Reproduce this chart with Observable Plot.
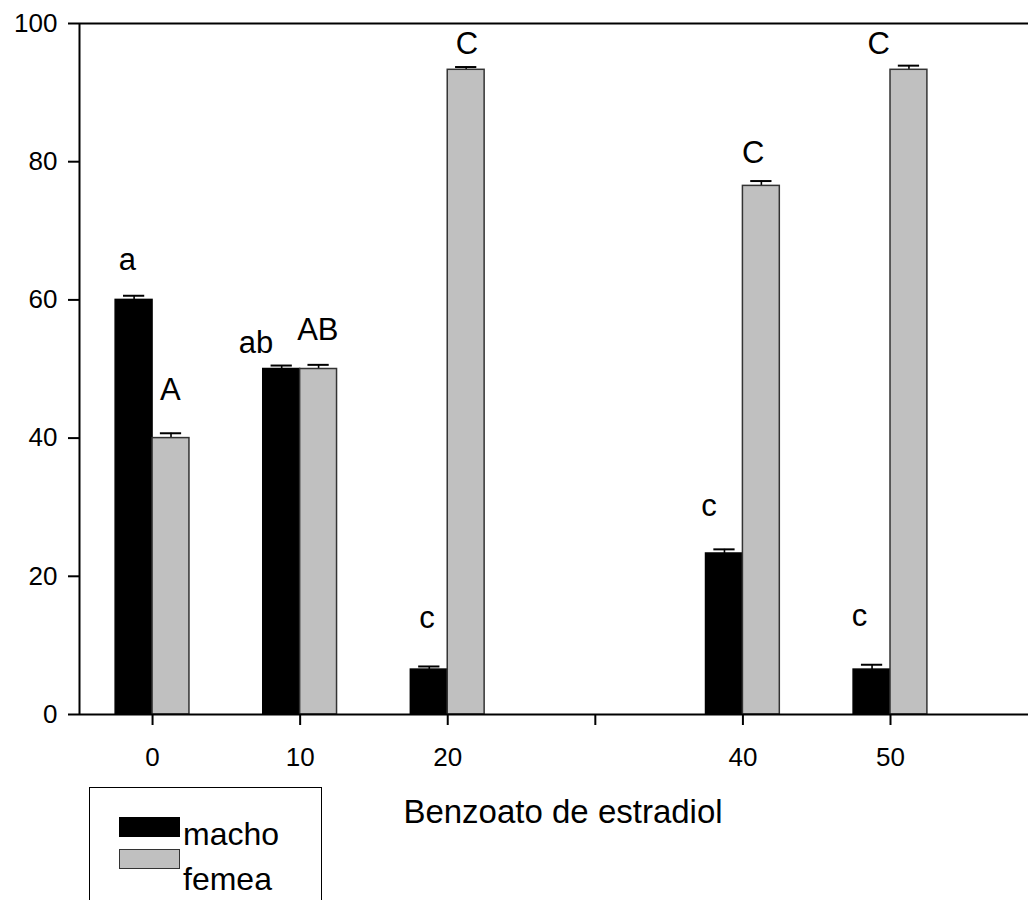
<!DOCTYPE html>
<html>
<head>
<meta charset="utf-8">
<script src="https://cdn.jsdelivr.net/npm/d3@7"></script>
<script src="https://cdn.jsdelivr.net/npm/@observablehq/plot@0.6"></script>
<style>
  html, body { margin: 0; padding: 0; background: #fff; overflow: hidden; }
  #wrap { position: relative; width: 1028px; height: 900px; overflow: hidden; font-family: "Liberation Sans", Arial, sans-serif; }
  #legend { position: absolute; left: 89px; top: 787px; width: 233px; height: 140px; border: 1.5px solid #000; box-sizing: border-box; background: #fff; }
  .sw { position: absolute; left: 29px; width: 61px; height: 20px; box-sizing: border-box; }
  .lab { position: absolute; left: 93px; font-size: 32px; line-height: 32px; color: #000; }
</style>
</head>
<body>
<div id="wrap">
  <div id="chart"></div>
  <div id="legend"></div>
</div>
<script>
// Data
const doses = [0, 10, 20, 40, 50];
const macho = [60, 50, 6.5, 23.3, 6.5];
const femea = [40, 50, 93.3, 76.5, 93.3];
const machoErr = [0.6, 0.5, 0.45, 0.6, 0.7];
const femeaErr = [0.7, 0.6, 0.4, 0.7, 0.6];
const xTicks = [0, 10, 20, 30, 40, 50];
const xTickLabels = ["0", "10", "20", "", "40", "50"];
const yTicks = [0, 20, 40, 60, 80, 100];
const letterText = ["a", "A", "ab", "AB", "c", "C", "c", "C", "c", "C"];
const letterX = [-1.7, 1.2, 7.0, 11.2, 18.6, 21.3, 37.7, 40.7, 47.9, 49.2];
const letterY = [65.7, 46.9, 53.8, 55.6, 14, 97, 30.2, 81.3, 14.3, 97];
const seriesNames = ["macho", "femea"];
const seriesColors = ["#000000", "#c0c0c0"];
const xTitle = "Benzoato de estradiol";

const barW = 2.5;   // bar width in x units
const capW = 0.72;  // half error cap width

const bars = [];
doses.forEach((d, i) => {
  bars.push({s: "macho", x1: d - barW, x2: d, v: macho[i], e: machoErr[i]});
  bars.push({s: "femea", x1: d, x2: d + barW, v: femea[i], e: femeaErr[i]});
});
bars.forEach(b => { b.c = (b.x1 + b.x2) / 2; b.top = b.v + b.e; });
const letters = letterText.map((t, i) => ({t, x: letterX[i], y: letterY[i]}));

const font = '"Liberation Sans", Arial, sans-serif';
const chart = Plot.plot({
  width: 1028,
  height: 900,
  marginLeft: 79,
  marginRight: 0,
  marginTop: 23,
  marginBottom: 186,
  style: {fontFamily: font, fontSize: "26px", color: "#000", background: "#fff"},
  x: {domain: [-4.95, 59.35]},
  y: {domain: [0, 100]},
  color: {domain: seriesNames, range: seriesColors},
  marks: [
    Plot.ruleX(bars, {y1: "v", y2: "top", x: "c", stroke: "#000", strokeWidth: 1.6}),
    Plot.ruleY(bars, {y: "top", x1: d => d.c - capW, x2: d => d.c + capW, stroke: "#000", strokeWidth: 2}),
    Plot.rectY(bars, {x1: "x1", x2: "x2", y1: 0, y2: "v", fill: "s", stroke: d => d.s === "macho" ? "#000" : "#333", strokeWidth: 1.5}),
    Plot.ruleY([100], {stroke: "#000", strokeWidth: 2}),
    Plot.ruleY([0], {stroke: "#000", strokeWidth: 2}),
    Plot.ruleX([-4.95], {stroke: "#000", strokeWidth: 2}),
    Plot.axisY({ticks: yTicks, tickSize: 11, tickPadding: 11, strokeWidth: 2, fontSize: 26, label: null}),
    Plot.axisX({ticks: xTicks, tickFormat: (d) => xTickLabels[xTicks.indexOf(d)], tickSize: 11, tickPadding: 22, strokeWidth: 2, fontSize: 26, label: null}),
    Plot.text(letters, {x: "x", y: "y", text: "t", fontSize: 31, fill: "#000"}),
    Plot.text([xTitle], {frameAnchor: "bottom", lineAnchor: "middle", dx: 9, dy: 98, fontSize: 33, fill: "#000"})
  ]
});
document.getElementById("chart").appendChild(chart);

const legend = document.getElementById("legend");
const swTop = [29, 61];
const labTop = [30, 75];
seriesNames.forEach((n, i) => {
  const sw = document.createElement("div");
  sw.className = "sw";
  sw.style.top = swTop[i] + "px";
  sw.style.background = seriesColors[i];
  sw.style.border = i === 0 ? "none" : "1.5px solid #333";
  const lab = document.createElement("div");
  lab.className = "lab";
  lab.style.top = labTop[i] + "px";
  lab.textContent = n;
  legend.appendChild(sw);
  legend.appendChild(lab);
});
</script>
</body>
</html>
